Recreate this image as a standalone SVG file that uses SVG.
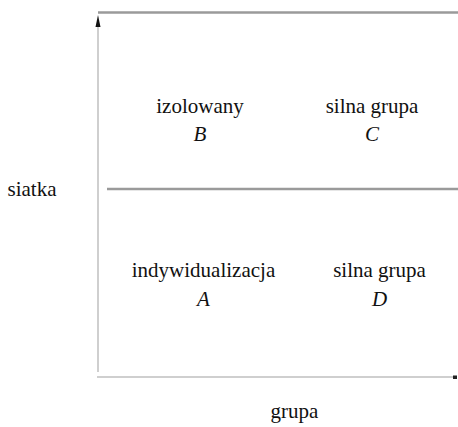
<svg xmlns="http://www.w3.org/2000/svg" width="458" height="427" viewBox="0 0 458 427">
  <style>
    .lbl { font-family: 'Liberation Serif', 'Times New Roman', serif; font-size: 21px; fill: #111; text-anchor: middle; }
    .it { font-style: italic; }
    .axis { stroke: #cfcfcf; stroke-width: 2; fill: none; }
    .rule { stroke: #9a9a9a; stroke-width: 2.4; fill: none; }
  </style>
  <rect width="458" height="427" fill="#fff"/>

  <!-- axes and dividing rules -->
  <g id="connectors">
    <line class="axis" x1="98" y1="372" x2="98" y2="26"/>
    <path d="M95.5,27 L98,15 L100.5,27 Z" fill="#111"/>
    <line class="axis" x1="97" y1="377" x2="453" y2="377"/>
    <rect x="453" y="375.5" width="4" height="3.5" fill="#222"/>
    <line class="rule" x1="98" y1="12.5" x2="458" y2="12.5"/>
    <line class="rule" x1="107" y1="189" x2="458" y2="189"/>
  </g>

  <!-- quadrant labels -->
  <g id="node-b">
    <text class="lbl" x="200" y="113">izolowany</text>
    <text class="lbl it" x="200" y="141">B</text>
  </g>
  <g id="node-c">
    <text class="lbl" x="372" y="113">silna grupa</text>
    <text class="lbl it" x="372" y="141">C</text>
  </g>
  <g id="node-a">
    <text class="lbl" x="203.5" y="277">indywidualizacja</text>
    <text class="lbl it" x="203.5" y="306">A</text>
  </g>
  <g id="node-d">
    <text class="lbl" x="379.5" y="277">silna grupa</text>
    <text class="lbl it" x="379.5" y="306">D</text>
  </g>

  <!-- axis titles -->
  <g id="axis-y-title">
    <text class="lbl" x="32" y="196">siatka</text>
  </g>
  <g id="axis-x-title">
    <text class="lbl" x="294.5" y="418">grupa</text>
  </g>
</svg>
